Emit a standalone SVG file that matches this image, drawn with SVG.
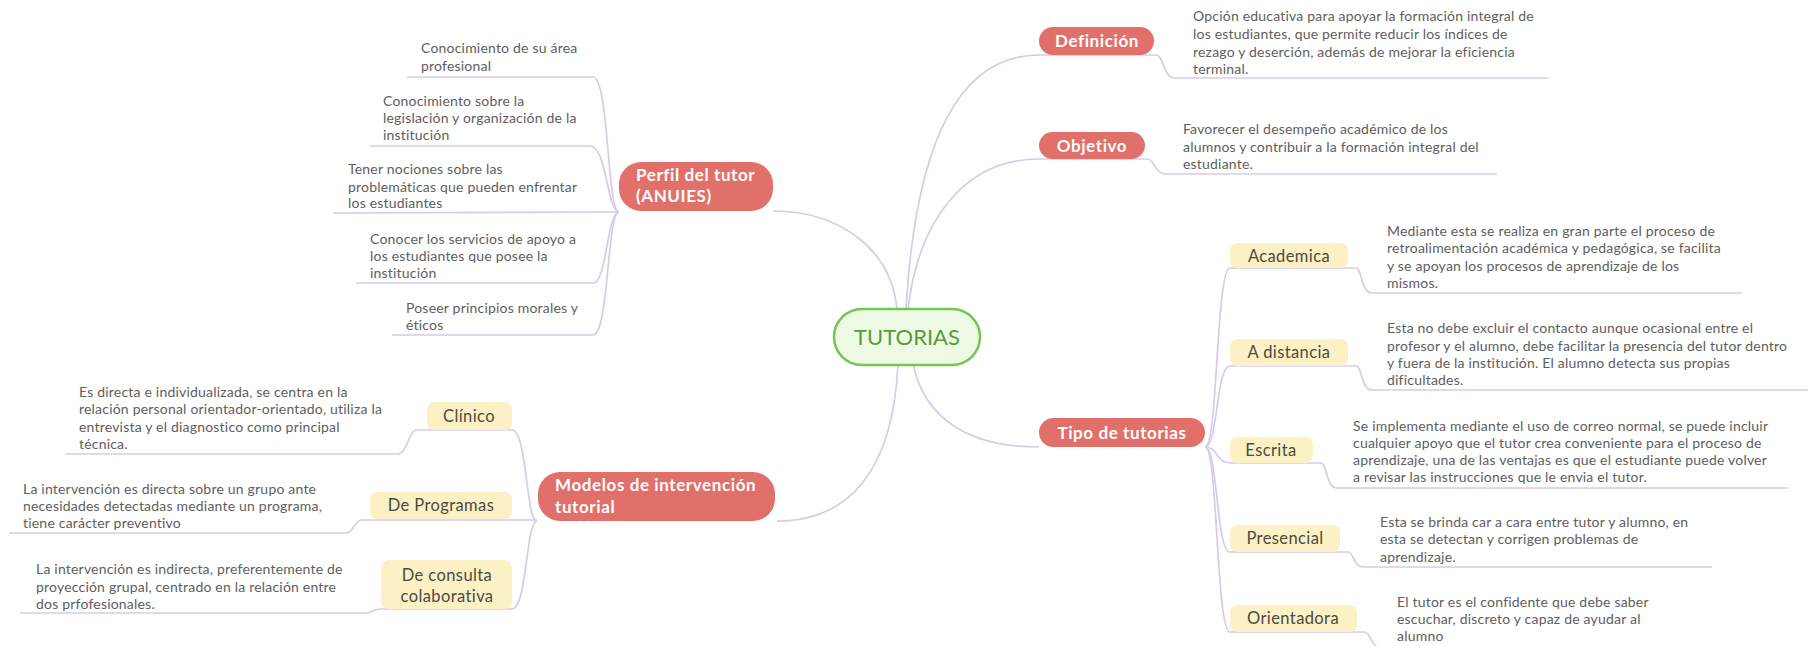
<svg xmlns="http://www.w3.org/2000/svg" width="1812" height="646" viewBox="0 0 1812 646">
<defs>
<style>
.conn{fill:none;stroke:#d6cbe9;stroke-width:1.7}
.desc{font-family:Lato,"Noto Sans",sans-serif;font-size:14px;letter-spacing:0.2px;fill:#5e5e5e}
.main rect{fill:#e2706a}
.main text{font-family:Lato,"Noto Sans",sans-serif;font-weight:bold;font-size:17px;letter-spacing:0.6px;fill:#ffffff}
.sub rect{fill:#fcf1c5}
.sub text{font-family:Lato,"Noto Sans",sans-serif;font-size:16.5px;letter-spacing:0.4px;fill:#4c4a40}
.root rect{fill:#edfbe4;stroke:#74c552;stroke-width:2.5}
.root text{font-family:Lato,"Noto Sans",sans-serif;font-size:22px;fill:#5a9a3c}
</style>
</defs>
<rect width="1812" height="646" fill="#ffffff"/>
<g id="connectors">
<path class="conn" d="M897 310 C892 250 840 211 773 211"/>
<path class="conn" d="M906 310 C915 150 955 55 1039 55"/>
<path class="conn" d="M908 310 C918 220 965 159 1039 159"/>
<path class="conn" d="M898 364 C893 470 850 521 777 521"/>
<path class="conn" d="M913 364 C925 420 970 447 1039 447"/>
<path class="conn" d="M619 212 C607 212 609 77 593 77 L407 77"/>
<path class="conn" d="M619 212 C607 212 607 146 590 146 L370 146"/>
<path class="conn" d="M619 212 L333 213"/>
<path class="conn" d="M619 212 C607 212 607 283 593 283 L356 283"/>
<path class="conn" d="M619 212 C607 212 609 335 593 335 L392 335"/>
<path class="conn" d="M537 521 C526 521 527 430 512 430 L417 430 C408 430 408 454 397 454 L65 454"/>
<path class="conn" d="M537 520 L362 520 C354 520 354 533 346 533 L9 533"/>
<path class="conn" d="M537 521 C526 521 527 609 512 609 L381 609 C373 609 373 613 365 613 L20 613"/>
<path class="conn" d="M1039 55 L1156 55 C1164 55 1163 78 1175 78 L1548 78"/>
<path class="conn" d="M1039 159 L1147 159 C1155 159 1154 174 1166 174 L1497 174"/>
<path class="conn" d="M1205 447 C1218 447 1216 268 1230 268 L1356 268 C1362 268 1361 293 1372 293 L1742 293"/>
<path class="conn" d="M1205 447 C1218 447 1216 366 1230 366 L1356 366 C1362 366 1361 390 1372 390 L1808 390"/>
<path class="conn" d="M1205 447 C1218 447 1216 463 1230 463 L1321 463 C1327 463 1326 488 1337 488 L1788 488"/>
<path class="conn" d="M1205 447 C1218 447 1216 552 1230 552 L1348 552 C1354 552 1353 567 1364 567 L1712 567"/>
<path class="conn" d="M1205 447 C1218 447 1216 632 1230 632 L1364 632 C1371 632 1370 647 1382 648 L1700 648"/>
</g>
<g id="root" class="root">
<rect x="834" y="309" width="146" height="56" rx="28"/>
<text x="907" y="345" text-anchor="middle">TUTORIAS</text>
</g>
<g id="perfil" class="main">
<rect x="619" y="162" width="154" height="49" rx="22"/>
<text x="636" y="181">Perfil del tutor</text>
<text x="636" y="202">(ANUIES)</text>
</g>
<g id="modelos" class="main">
<rect x="538" y="472" width="237" height="49" rx="22"/>
<text x="555" y="491">Modelos de intervención</text>
<text x="555" y="513">tutorial</text>
</g>
<g id="definicion" class="main">
<rect x="1039" y="27" width="115" height="28" rx="14"/>
<text x="1097" y="47" text-anchor="middle">Definición</text>
</g>
<g id="objetivo" class="main">
<rect x="1039" y="132" width="106" height="27" rx="13.5"/>
<text x="1092" y="152" text-anchor="middle">Objetivo</text>
</g>
<g id="tipo" class="main">
<rect x="1039" y="418" width="166" height="29" rx="14.5"/>
<text x="1122" y="439" text-anchor="middle">Tipo de tutorias</text>
</g>
<g id="perfil-1"><text class="desc" x="421" y="53">Conocimiento de su área</text><text class="desc" x="421" y="71">profesional</text></g>
<g id="perfil-2"><text class="desc" x="383" y="106">Conocimiento sobre la</text><text class="desc" x="383" y="123">legislación y organización de la</text><text class="desc" x="383" y="140">institución</text></g>
<g id="perfil-3"><text class="desc" x="348" y="174">Tener nociones sobre las</text><text class="desc" x="348" y="192">problemáticas que pueden enfrentar</text><text class="desc" x="348" y="208">los estudiantes</text></g>
<g id="perfil-4"><text class="desc" x="370" y="244">Conocer los servicios de apoyo a</text><text class="desc" x="370" y="261">los estudiantes que posee la</text><text class="desc" x="370" y="278">institución</text></g>
<g id="perfil-5"><text class="desc" x="406" y="313">Poseer principios morales y</text><text class="desc" x="406" y="330">éticos</text></g>
<g id="clinico" class="sub"><rect x="427" y="402" width="85" height="28" rx="7"/><text x="469" y="422" text-anchor="middle">Clínico</text></g>
<g id="programas" class="sub"><rect x="370" y="492" width="142" height="27" rx="7"/><text x="441" y="511" text-anchor="middle">De Programas</text></g>
<g id="consulta" class="sub"><rect x="381" y="560" width="131" height="49" rx="8"/><text x="447" y="581" text-anchor="middle">De consulta</text><text x="447" y="602" text-anchor="middle">colaborativa</text></g>
<g id="clinico-desc"><text class="desc" x="79" y="397">Es directa e individualizada, se centra en la</text><text class="desc" x="79" y="414">relación personal orientador-orientado, utiliza la</text><text class="desc" x="79" y="432">entrevista y el diagnostico como principal</text><text class="desc" x="79" y="449">técnica.</text></g>
<g id="programas-desc"><text class="desc" x="23" y="494">La intervención es directa sobre un grupo ante</text><text class="desc" x="23" y="511">necesidades detectadas mediante un programa,</text><text class="desc" x="23" y="528">tiene carácter preventivo</text></g>
<g id="consulta-desc"><text class="desc" x="36" y="574">La intervención es indirecta, preferentemente de</text><text class="desc" x="36" y="592">proyección grupal, centrado en la relación entre</text><text class="desc" x="36" y="609">dos prfofesionales.</text></g>
<g id="definicion-desc"><text class="desc" x="1193" y="21">Opción educativa para apoyar la formación integral de</text><text class="desc" x="1193" y="39">los estudiantes, que permite reducir los índices de</text><text class="desc" x="1193" y="57">rezago y deserción, además de mejorar la eficiencia</text><text class="desc" x="1193" y="74">terminal.</text></g>
<g id="objetivo-desc"><text class="desc" x="1183" y="134">Favorecer el desempeño académico de los</text><text class="desc" x="1183" y="152">alumnos y contribuir a la formación integral del</text><text class="desc" x="1183" y="169">estudiante.</text></g>
<g id="academica" class="sub"><rect x="1230" y="243" width="118" height="25" rx="7"/><text x="1289" y="262" text-anchor="middle">Academica</text></g>
<g id="distancia" class="sub"><rect x="1230" y="339" width="118" height="27" rx="7"/><text x="1289" y="358" text-anchor="middle">A distancia</text></g>
<g id="escrita" class="sub"><rect x="1230" y="437" width="83" height="26" rx="7"/><text x="1271" y="456" text-anchor="middle">Escrita</text></g>
<g id="presencial" class="sub"><rect x="1230" y="525" width="110" height="27" rx="7"/><text x="1285" y="544" text-anchor="middle">Presencial</text></g>
<g id="orientadora" class="sub"><rect x="1230" y="605" width="127" height="27" rx="7"/><text x="1293" y="624" text-anchor="middle">Orientadora</text></g>
<g id="academica-desc"><text class="desc" x="1387" y="236">Mediante esta se realiza en gran parte el proceso de</text><text class="desc" x="1387" y="253">retroalimentación académica y pedagógica, se facilita</text><text class="desc" x="1387" y="271">y se apoyan los procesos de aprendizaje de los</text><text class="desc" x="1387" y="288">mismos.</text></g>
<g id="distancia-desc"><text class="desc" x="1387" y="333">Esta no debe excluir el contacto aunque ocasional entre el</text><text class="desc" x="1387" y="351">profesor y el alumno, debe facilitar la presencia del tutor dentro</text><text class="desc" x="1387" y="368">y fuera de la institución. El alumno detecta sus propias</text><text class="desc" x="1387" y="385">dificultades.</text></g>
<g id="escrita-desc"><text class="desc" x="1353" y="431">Se implementa mediante el uso de correo normal, se puede incluir</text><text class="desc" x="1353" y="448">cualquier apoyo que el tutor crea conveniente para el proceso de</text><text class="desc" x="1353" y="465">aprendizaje, una de las ventajas es que el estudiante puede volver</text><text class="desc" x="1353" y="482">a revisar las instrucciones que le envia el tutor.</text></g>
<g id="presencial-desc"><text class="desc" x="1380" y="527">Esta se brinda car a cara entre tutor y alumno, en</text><text class="desc" x="1380" y="544">esta se detectan y corrigen problemas de</text><text class="desc" x="1380" y="562">aprendizaje.</text></g>
<g id="orientadora-desc"><text class="desc" x="1397" y="607">El tutor es el confidente que debe saber</text><text class="desc" x="1397" y="624">escuchar, discreto y capaz de ayudar al</text><text class="desc" x="1397" y="641">alumno</text></g>
</svg>
